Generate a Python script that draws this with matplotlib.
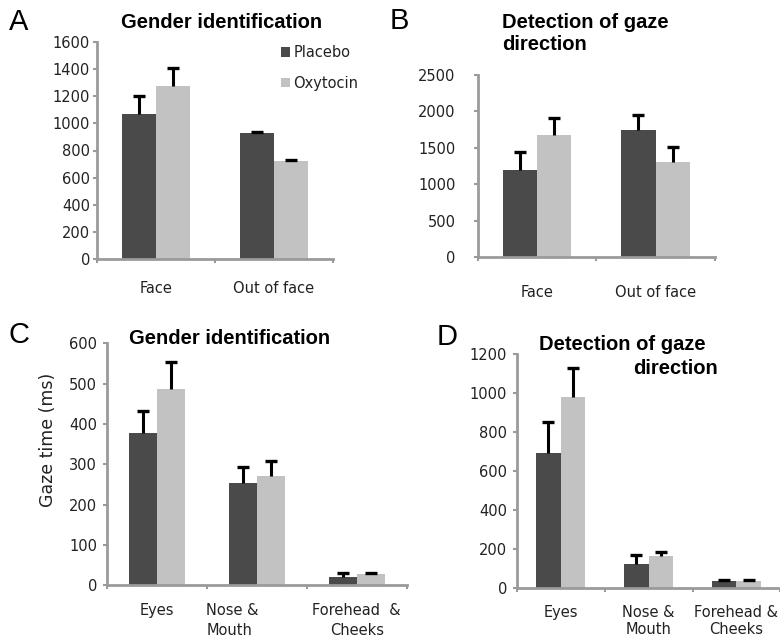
import matplotlib
matplotlib.use("Agg")
import matplotlib.pyplot as plt
import matplotlib.transforms as mtransforms
import numpy as np

plt.rcParams['font.family'] = ['DejaVu Sans']

# ---------------- data ----------------
series_names = ["Placebo", "Oxytocin"]

a_categories = ["Face", "Out of face"]
a_placebo = [1069, 929]
a_placebo_err = [1202, 935]
a_oxytocin = [1278, 725]
a_oxytocin_err = [1411, 728]
a_yticks = [0, 200, 400, 600, 800, 1000, 1200, 1400, 1600]

b_categories = ["Face", "Out of face"]
b_placebo = [1193, 1746]
b_placebo_err = [1444, 1951]
b_oxytocin = [1669, 1303]
b_oxytocin_err = [1906, 1513]
b_yticks = [0, 500, 1000, 1500, 2000, 2500]

c_categories = ["Eyes", "Nose &\nMouth", "Forehead  &\nCheeks"]
c_placebo = [378, 254, 21]
c_placebo_err = [432, 294, 30]
c_oxytocin = [486, 270, 27]
c_oxytocin_err = [554, 308, 30]
c_yticks = [0, 100, 200, 300, 400, 500, 600]

d_categories = ["Eyes", "Nose &\nMouth", "Forehead &\nCheeks"]
d_placebo = [694, 126, 37]
d_placebo_err = [850, 169, 40]
d_oxytocin = [978, 165, 37]
d_oxytocin_err = [1127, 184, 40]
d_yticks = [0, 200, 400, 600, 800, 1000, 1200]

# ---------------- style ----------------
W, H = 780, 637
DPI = 100
C_PLA = "#4a4a4a"
C_OXY = "#c2c2c2"
C_AX = "#9a9a9a"
C_TXT = "#222222"
TICK_FS = 10.5

fig = plt.figure(figsize=(W / DPI, H / DPI), dpi=DPI)


def rect(l, r, top, bot):
    return [l / W, (H - bot) / H, (r - l) / W, (bot - top) / H]


def panel(box, cats, pla, pla_e, oxy, oxy_e, yticks, ypad, xpad, bw=0.29,
          lsp=1.45):
    ax = fig.add_axes(box)
    n = len(cats)
    x = np.arange(n)
    ax.bar(x - bw / 2, pla, bw, color=C_PLA, zorder=2, label=series_names[0])
    ax.bar(x + bw / 2, oxy, bw, color=C_OXY, zorder=2, label=series_names[1])
    for xs, v, e in ((x - bw / 2, pla, pla_e), (x + bw / 2, oxy, oxy_e)):
        ax.vlines(xs, v, e, colors="black", linewidth=2.2, zorder=3)
        ax.plot(xs, e, linestyle="none", marker="_", markersize=9,
                markeredgewidth=2.4, color="black", zorder=3)
    ax.set_xlim(-0.5, n - 0.5)
    ax.set_ylim(yticks[0], yticks[-1])
    ax.set_yticks(yticks)
    ax.set_yticklabels([str(t) for t in yticks])
    ax.set_xticks(np.arange(n + 1) - 0.5)
    ax.set_xticklabels([])
    ax.set_xticks(x, minor=True)
    ax.set_xticklabels(cats, minor=True, linespacing=lsp)
    ax.tick_params(axis="x", which="minor", length=0, pad=xpad,
                   labelsize=TICK_FS, labelcolor=C_TXT)
    ax.tick_params(axis="x", which="major", length=3, width=1.5, color=C_AX,
                   direction="out")
    ax.tick_params(axis="y", length=3, width=1.5, color=C_AX, direction="out",
                   pad=ypad, labelsize=TICK_FS, labelcolor=C_TXT)
    for s in ("top", "right"):
        ax.spines[s].set_visible(False)
    for s in ("left", "bottom"):
        ax.spines[s].set_color(C_AX)
        ax.spines[s].set_linewidth(2)
    ax.set_facecolor("none")
    return ax


axA = panel(rect(97, 333, 42, 259), a_categories, a_placebo, a_placebo_err,
            a_oxytocin, a_oxytocin_err, a_yticks, ypad=2, xpad=16)
axB = panel(rect(477.7, 715, 74.7, 257), b_categories, b_placebo, b_placebo_err,
            b_oxytocin, b_oxytocin_err, b_yticks, ypad=13, xpad=20)
axC = panel(rect(106.7, 406.7, 343.3, 585.3), c_categories, c_placebo,
            c_placebo_err, c_oxytocin, c_oxytocin_err, c_yticks, ypad=4,
            xpad=13, bw=0.28, lsp=1.4)
axD = panel(rect(516.7, 780.4, 354, 588.3), d_categories, d_placebo,
            d_placebo_err, d_oxytocin, d_oxytocin_err, d_yticks, ypad=4,
            xpad=12, bw=0.28, lsp=1.2)

# shift "Nose & Mouth" label in C to the left as in the reference
for lbl in axC.get_xticklabels(minor=True):
    if lbl.get_text().startswith("Nose"):
        lbl.set_transform(lbl.get_transform() +
                          mtransforms.ScaledTranslation(-24 / DPI, 0, fig.dpi_scale_trans))
        lbl.set_multialignment("left")

leg = axA.legend(loc="upper left", bbox_to_anchor=(184 / 236, 0.985),
                 frameon=False, handlelength=0.6, handleheight=0.6,
                 handletextpad=0.25, labelspacing=1.05, fontsize=10.5,
                 labelcolor=C_TXT, borderaxespad=0, borderpad=0)

fig.text(48 / W, 1 - 440 / H, "Gaze time (ms)", rotation=90, ha="center",
         va="center", fontsize=12.5, color=C_TXT)


def ftext(x, y, s, **kw):
    fig.text(x / W, 1 - y / H, s, **kw)


TITLE = dict(fontsize=14.5, fontweight="bold", color="black", va="center",
             family=["Liberation Sans", "DejaVu Sans"])
ftext(222, 22, "Gender identification", ha="center", **TITLE)
ftext(501.7, 22, "Detection of gaze", ha="left", **TITLE)
ftext(501.7, 45, "direction", ha="left", **TITLE)
ftext(230, 338, "Gender identification", ha="center", **TITLE)
ftext(539, 345, "Detection of gaze", ha="left", **TITLE)
ftext(718, 368, "direction", ha="right", **TITLE)

LET = dict(fontsize=21, color="black", va="center", ha="left",
           family=["Liberation Sans", "DejaVu Sans"])
ftext(9, 22, "A", **LET)
ftext(390, 21, "B", **LET)
ftext(9, 335, "C", **LET)
ftext(437, 337, "D", **LET)

fig.savefig("out.png", dpi=DPI)
